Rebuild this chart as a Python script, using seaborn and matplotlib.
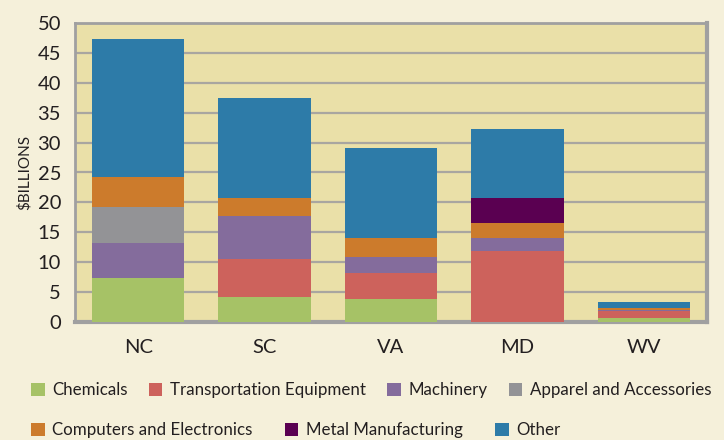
import matplotlib
matplotlib.use("Agg")
import matplotlib.pyplot as plt
from matplotlib.patches import Patch
import numpy as np
import pandas as pd
import seaborn as sns

# ------------------------------------------------
# Data ($ billions)
# ------------------------------------------------

states = ["NC", "SC", "VA", "MD", "WV"]

chemicals = [7.4, 4.2, 3.85, 0.0, 0.7]
transportation = [0.0, 6.3, 4.35, 11.8, 1.1]
machinery = [5.8, 7.3, 2.7, 2.3, 0.25]
apparel = [6.05, 0.0, 0.0, 0.0, 0.0]
computers = [5.05, 3.0, 3.2, 2.4, 0.25]
metal = [0.0, 0.0, 0.0, 4.3, 0.0]
other = [23.1, 16.7, 15.0, 11.5, 1.05]

series_names = [
    "Chemicals",
    "Transportation Equipment",
    "Machinery",
    "Apparel and Accessories",
    "Computers and Electronics",
    "Metal Manufacturing",
    "Other",
]
series_values = [chemicals, transportation, machinery, apparel, computers, metal, other]
colors = ["#A6C266", "#CD625C", "#846C9C", "#939396", "#CC7B2C", "#5A0051", "#2D7BA8"]

FIG_BG = "#F5F0DA"
AX_BG = "#EAE0A8"
TEXT = "#231F20"
GRID = "#A9A6A0"

# ------------------------------------------------
# Figure
# ------------------------------------------------

sns.set_style("white")
plt.rcParams["font.family"] = ["Lato", "DejaVu Sans"]

fig = plt.figure(figsize=(7.24, 4.40), dpi=100, facecolor=FIG_BG)
ax = fig.add_axes([75 / 724, 1 - 322 / 440, 632 / 724, 299 / 440])
ax.set_facecolor(AX_BG)

df = pd.DataFrame(dict(zip(series_names, series_values)), index=states)
cum = df.cumsum(axis=1)

# stacked bars: draw cumulative totals from the top layer down
for name, color in zip(reversed(series_names), reversed(colors)):
    sns.barplot(
        x=states,
        y=cum[name].values,
        color=color,
        saturation=1,
        width=0.73,
        linewidth=0,
        ax=ax,
        zorder=3,
    )

ax.set_ylim(0, 50)
ax.set_yticks(np.arange(0, 51, 5))
ax.yaxis.grid(True, color=GRID, linewidth=1.6, zorder=0)
ax.set_axisbelow(True)
ax.tick_params(axis="both", length=0, colors=TEXT, labelsize=14.5)
ax.tick_params(axis="y", pad=10)
ax.tick_params(axis="x", pad=12)
ax.set_xlabel("")
ax.set_ylabel("")

for side in ["top", "left"]:
    ax.spines[side].set_color("#A0A0A0")
    ax.spines[side].set_linewidth(2)
for side in ["right", "bottom"]:
    ax.spines[side].set_color("#A0A0A0")
    ax.spines[side].set_linewidth(3)

fig.text(24 / 724, 1 - 172 / 440, "$BILLIONS", rotation=90, ha="center",
         va="center", fontsize=11, color=TEXT)

# ------------------------------------------------
# Legend (two rows)
# ------------------------------------------------

handles = [Patch(facecolor=c, edgecolor="none") for c in colors]

leg_kw = dict(
    frameon=False,
    loc="center left",
    borderpad=0,
    borderaxespad=0,
    handlelength=0.8,
    handleheight=0.8,
    handletextpad=0.45,
    fontsize=12.2,
    labelcolor=TEXT,
)

fig.legend(handles[:4], series_names[:4], ncol=4, columnspacing=1.25,
           bbox_to_anchor=(31 / 724, 1 - 390 / 440), **leg_kw)
fig.legend(handles[4:], series_names[4:], ncol=3, columnspacing=1.9,
           bbox_to_anchor=(31 / 724, 1 - 430 / 440), **leg_kw)

fig.savefig("out.png", dpi=100, facecolor=FIG_BG)
